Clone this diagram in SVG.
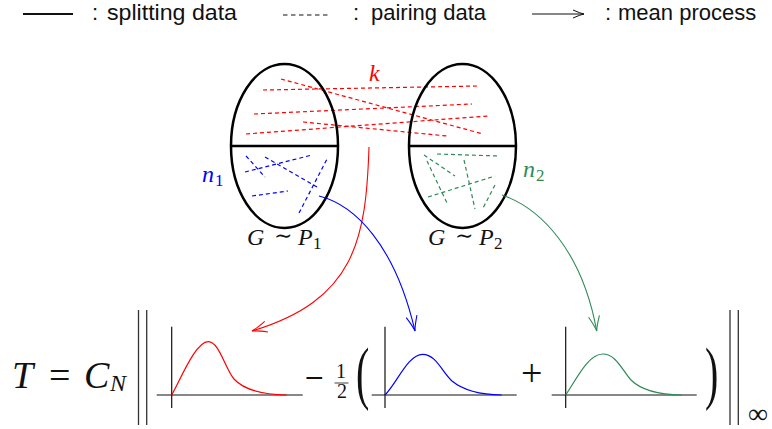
<svg xmlns="http://www.w3.org/2000/svg" width="772" height="429" viewBox="0 0 772 429">
<style>
.leg{font-family:"Liberation Sans","Noto Sans",sans-serif;font-size:22px;fill:#111}
.mi{font-family:"Liberation Serif","DejaVu Serif",serif;font-style:italic}
.mr{font-family:"Liberation Serif","DejaVu Serif",serif}
.sym{font-family:"DejaVu Serif","Liberation Serif",serif}
.ell{fill:none;stroke:#000;stroke-width:2.5}
.dash{fill:none;stroke-width:1.2;stroke-dasharray:4 3}
.r{stroke:#ff0000}.b{stroke:#0000ff}.g{stroke:#2e8b57}
.cv{fill:none;stroke-width:1.1}
.ax{fill:none;stroke:#111;stroke-width:1.2}
.pl{fill:none;stroke-width:1.2}
</style>
<defs>
<marker id="ar" markerUnits="userSpaceOnUse" orient="auto" refX="0" refY="0" markerWidth="20" markerHeight="14" overflow="visible"><path d="M-15,-5.5 Q-5,-1 0,0 Q-5,1 -15,5.5" fill="none" stroke="#ff0000" stroke-width="1.1"/></marker>
<marker id="ab" markerUnits="userSpaceOnUse" orient="auto" refX="0" refY="0" markerWidth="20" markerHeight="14" overflow="visible"><path d="M-15,-5.5 Q-5,-1 0,0 Q-5,1 -15,5.5" fill="none" stroke="#0000ff" stroke-width="1.1"/></marker>
<marker id="ag" markerUnits="userSpaceOnUse" orient="auto" refX="0" refY="0" markerWidth="20" markerHeight="14" overflow="visible"><path d="M-15,-5.5 Q-5,-1 0,0 Q-5,1 -15,5.5" fill="none" stroke="#2e8b57" stroke-width="1.1"/></marker>
<marker id="ak" markerUnits="userSpaceOnUse" orient="auto" refX="0" refY="0" markerWidth="14" markerHeight="10" overflow="visible"><path d="M-11,-4 Q-4,-0.8 0,0 Q-4,0.8 -11,4" fill="none" stroke="#111" stroke-width="1"/></marker>
</defs>

<g id="legend">
  <line x1="23" y1="14" x2="73" y2="14" stroke="#111" stroke-width="2.2"/>
  <text class="leg" x="92" y="20">:</text>
  <text class="leg" x="107" y="20" textLength="130" lengthAdjust="spacingAndGlyphs">splitting data</text>
  <line x1="283" y1="15" x2="331" y2="15" stroke="#111" stroke-width="1" stroke-dasharray="4.5 3.5"/>
  <text class="leg" x="353" y="20">:</text>
  <text class="leg" x="371" y="20">pairing data</text>
  <line x1="532" y1="14" x2="584" y2="14" stroke="#111" stroke-width="1" marker-end="url(#ak)"/>
  <text class="leg" x="605" y="20">:</text>
  <text class="leg" x="618" y="20">mean process</text>
</g>

<g id="pairs-k">
  <line class="dash r" x1="281" y1="79" x2="483" y2="134"/>
  <line class="dash r" x1="263" y1="90" x2="478" y2="86"/>
  <line class="dash r" x1="254" y1="114" x2="472" y2="104"/>
  <line class="dash r" x1="303" y1="122" x2="447" y2="136"/>
  <line class="dash r" x1="246" y1="134" x2="488" y2="116"/>
  <text class="mi" x="369" y="81" font-size="24" fill="#ff0000">k</text>
</g>

<g id="sample1">
  <ellipse class="ell" cx="284.5" cy="146" rx="53.5" ry="82"/>
  <line x1="231" y1="146" x2="338" y2="146" stroke="#000" stroke-width="2.5"/>
  <line class="dash b" x1="246" y1="156" x2="265" y2="177"/>
  <line class="dash b" x1="245" y1="172" x2="312" y2="155"/>
  <line class="dash b" x1="265" y1="157" x2="317" y2="187"/>
  <line class="dash b" x1="252" y1="196" x2="288" y2="191"/>
  <line class="dash b" x1="299" y1="213" x2="327" y2="159"/>
  <text class="mi" x="202" y="182" font-size="24" fill="#0000ff">n</text>
  <text class="mr" x="215" y="186" font-size="17" fill="#0000ff">1</text>
  <text class="mi" x="247" y="245" font-size="24" fill="#111">G</text>
  <text class="sym" x="274" y="243" font-size="22" fill="#111">∼</text>
  <text class="mi" x="298" y="245" font-size="24" fill="#111">P</text>
  <text class="mr" x="313" y="249" font-size="17" fill="#111">1</text>
</g>

<g id="sample2">
  <ellipse class="ell" cx="462.5" cy="146" rx="53.5" ry="82"/>
  <line x1="409" y1="146" x2="516" y2="146" stroke="#000" stroke-width="2.5"/>
  <line class="dash g" x1="437" y1="154" x2="499" y2="156"/>
  <line class="dash g" x1="424" y1="155" x2="455" y2="176"/>
  <line class="dash g" x1="427" y1="161" x2="447" y2="203"/>
  <line class="dash g" x1="428" y1="197" x2="495" y2="176"/>
  <line class="dash g" x1="464" y1="160" x2="475" y2="209"/>
  <line class="dash g" x1="495" y1="185" x2="483" y2="208"/>
  <text class="mi" x="523" y="177" font-size="24" fill="#2e8b57">n</text>
  <text class="mr" x="536" y="181" font-size="17" fill="#2e8b57">2</text>
  <text class="mi" x="428" y="245" font-size="24" fill="#111">G</text>
  <text class="sym" x="455" y="243" font-size="22" fill="#111">∼</text>
  <text class="mi" x="479" y="245" font-size="24" fill="#111">P</text>
  <text class="mr" x="494" y="249" font-size="17" fill="#111">2</text>
</g>

<g id="connectors">
  <path class="cv r" d="M369,147 C366,240 355,300 252,331" marker-end="url(#ar)"/>
  <path class="cv b" d="M319,196 C355,205 395,245 415,331" marker-end="url(#ab)"/>
  <path class="cv g" d="M502,195 C540,208 582,250 596.7,331" marker-end="url(#ag)"/>
</g>

<g id="formula">
  <text class="mi" x="12" y="388" font-size="38" fill="#111">T</text>
  <text class="mr" x="49" y="388" font-size="38" fill="#111">=</text>
  <text class="mi" x="84" y="388" font-size="38" fill="#111">C</text>
  <text class="mi" x="110" y="391" font-size="24" fill="#111">N</text>
  <line x1="138.5" y1="310" x2="138.5" y2="425" stroke="#333" stroke-width="1.3"/>
  <line x1="146.7" y1="310" x2="146.7" y2="425" stroke="#333" stroke-width="1.3"/>
  <text class="sym" x="304" y="385.5" font-size="25" fill="#111">−</text>
  <text class="mr" x="341" y="378" font-size="20" fill="#111" text-anchor="middle">1</text>
  <line x1="334.5" y1="383" x2="348.5" y2="383" stroke="#111" stroke-width="0.8"/>
  <text class="mr" x="342" y="398" font-size="20" fill="#111" text-anchor="middle">2</text>
  <text class="mr" transform="translate(356,395.6) scale(1,1.75)" font-size="40" fill="#111">(</text>
  <text class="mr" x="521" y="386" font-size="38" fill="#111">+</text>
  <text class="mr" transform="translate(705,395.6) scale(1,1.75)" font-size="40" fill="#111">)</text>
  <line x1="730" y1="310" x2="730" y2="425" stroke="#333" stroke-width="1.3"/>
  <line x1="738.3" y1="310" x2="738.3" y2="425" stroke="#333" stroke-width="1.3"/>
  <text class="mr" x="748" y="423" font-size="28" fill="#111">∞</text>
</g>

<g id="plot1">
  <line class="ax" x1="171.7" y1="326.7" x2="171.7" y2="408"/>
  <line class="ax" x1="156.7" y1="395" x2="302.7" y2="395"/>
  <path class="pl r" d="M171.7,395 C182,376 196,341.7 208.3,341.7 C219,341.7 225,368 234,379 C244,390 262,394.5 286.7,395"/>
</g>
<g id="plot2">
  <line class="ax" x1="385" y1="326.7" x2="385" y2="408"/>
  <line class="ax" x1="371.7" y1="395" x2="516.7" y2="395"/>
  <path class="pl b" d="M385,395 C397,383 408,354.3 422.7,354.3 C436,354.3 442,372 452,381 C464,391 482,394.7 501.7,395"/>
</g>
<g id="plot3">
  <line class="ax" x1="565.7" y1="326.7" x2="565.7" y2="408"/>
  <line class="ax" x1="551.7" y1="395" x2="696.7" y2="395"/>
  <path class="pl g" d="M565.7,395 C576,380 588,354 602.7,354 C616,354 622,370 631,380 C642,391 662,394.7 681.7,395"/>
</g>
</svg>
